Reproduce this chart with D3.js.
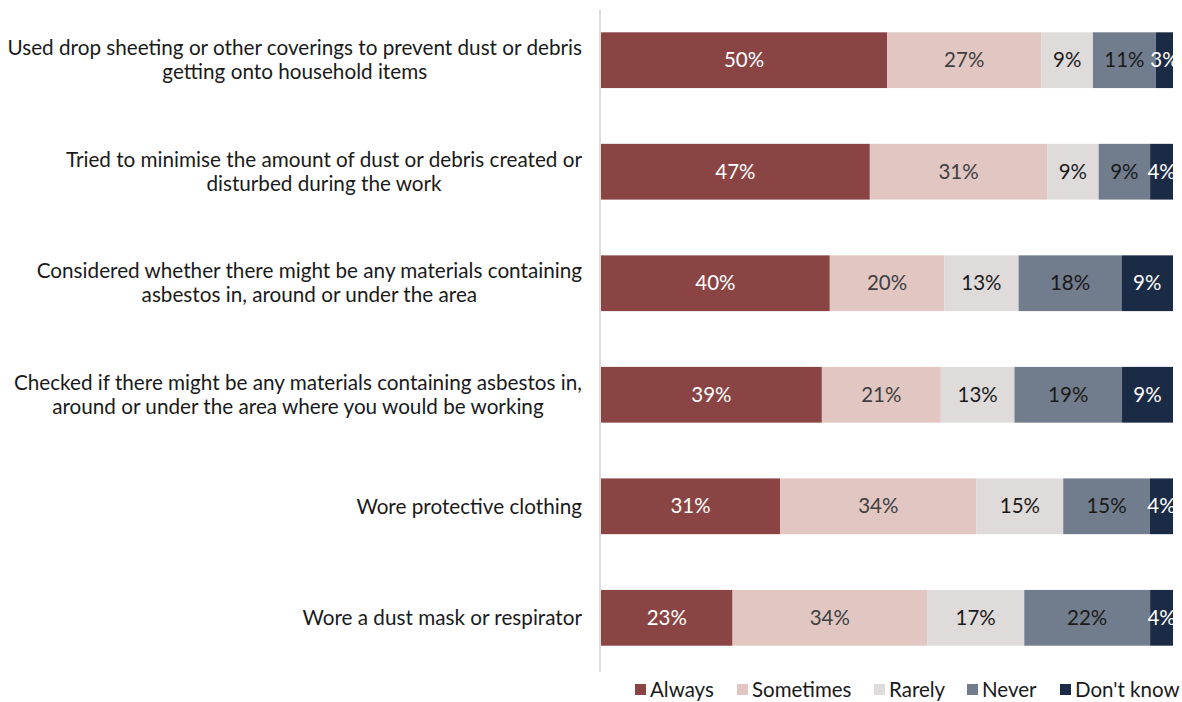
<!DOCTYPE html>
<html>
<head>
<meta charset="utf-8">
<script src="https://cdn.jsdelivr.net/npm/d3@7"></script>
<style>
  html, body { margin: 0; padding: 0; background: #fff; }
  svg { display: block; font-family: Lato, "Open Sans", sans-serif; }
</style>
</head>
<body>
<svg id="chart" width="1182" height="702"></svg>
<script>
// Survey statements (each entry's lines are drawn as a wrapped label)
const categories = [
  ["Used drop sheeting or other coverings to prevent dust or debris", "getting onto household items"],
  ["Tried to minimise the amount of dust or debris created or", "disturbed during the work"],
  ["Considered whether there might be any materials containing", "asbestos in, around or under the area"],
  ["Checked if there might be any materials containing asbestos in,", "around or under the area where you would be working"],
  ["Wore protective clothing"],
  ["Wore a dust mask or respirator"]
];
const seriesNames = ["Always", "Sometimes", "Rarely", "Never", "Don't know"];
const always    = [50, 47, 40, 39, 31, 23];
const sometimes = [27, 31, 20, 21, 34, 34];
const rarely    = [9, 9, 13, 13, 15, 17];
const never     = [11, 9, 18, 19, 15, 22];
const dontKnow  = [3, 4, 9, 9, 4, 4];

const colors     = ["#8B4444", "#E2C6C2", "#E0DBDB", "#717C8C", "#1B2A45"];
const textColors = ["#ffffff", "#404040", "#1a1a1a", "#1a1a1a", "#ffffff"];

const seriesValues = [always, sometimes, rarely, never, dontKnow];
const rows = categories.map((c, i) => {
  const r = { idx: i };
  seriesNames.forEach((s, j) => r[s] = seriesValues[j][i]);
  return r;
});

const svg = d3.select("#chart");

const x = d3.scaleLinear().domain([0, 1]).range([601, 1173]);
const y = d3.scaleBand().domain(d3.range(categories.length))
  .range([10, 668]).paddingInner(0.5).paddingOuter(0.2);

// 100% stacked layout
const stacked = d3.stack().keys(seriesNames).offset(d3.stackOffsetExpand)(rows);

// vertical axis line
svg.append("line")
  .attr("x1", 600).attr("x2", 600)
  .attr("y1", 10).attr("y2", 672)
  .attr("stroke", "#d0d0d0").attr("stroke-width", 1.5);

const layers = svg.append("g").selectAll("g")
  .data(stacked).join("g")
  .attr("fill", (d, i) => colors[i]);

layers.selectAll("rect")
  .data(d => d.map(p => ({ p, key: d.key })))
  .join("rect")
  .attr("x", d => x(d.p[0]))
  .attr("width", d => x(d.p[1]) - x(d.p[0]))
  .attr("y", d => y(d.p.data.idx))
  .attr("height", y.bandwidth());

// value labels
stacked.forEach((layer, j) => {
  svg.append("g").selectAll("text")
    .data(layer).join("text")
    .attr("x", d => (x(d[0]) + x(d[1])) / 2)
    .attr("y", d => y(d.data.idx) + y.bandwidth() / 2)
    .attr("dy", "0.35em")
    .attr("text-anchor", "middle")
    .attr("font-size", 20.5)
    .attr("fill", textColors[j])
    .text(d => d.data[layer.key] + "%");
});

// category labels: block right-aligned, lines centered within it
const labelRight = 582;
const lineH = 24;
categories.forEach((lines, i) => {
  const g = svg.append("g");
  const cy = y(i) + y.bandwidth() / 2;
  const texts = lines.map((ln, k) => g.append("text")
    .attr("font-size", 20.7)
    .attr("fill", "#1a1a1a")
    .attr("text-anchor", "middle")
    .attr("dy", "0.35em")
    .attr("y", cy + (k - (lines.length - 1) / 2) * lineH)
    .text(ln));
  const w = d3.max(texts, t => t.node().getComputedTextLength());
  texts.forEach(t => t.attr("x", labelRight - w / 2));
});

// legend
const legendX = [635, 737, 874, 967, 1060];
const legend = svg.append("g");
seriesNames.forEach((s, j) => {
  legend.append("rect")
    .attr("x", legendX[j]).attr("y", 684)
    .attr("width", 11).attr("height", 11)
    .attr("fill", colors[j]);
  legend.append("text")
    .attr("x", legendX[j] + 15).attr("y", 689.5)
    .attr("dy", "0.35em")
    .attr("font-size", 20.5)
    .attr("fill", "#1a1a1a")
    .text(s);
});
</script>
</body>
</html>
